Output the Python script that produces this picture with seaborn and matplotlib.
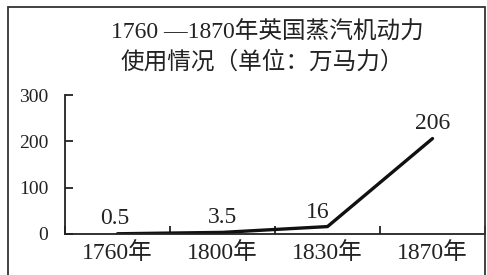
import matplotlib
matplotlib.use('Agg')
import matplotlib.pyplot as plt
import seaborn as sns
from matplotlib.patches import Rectangle

years = ['1760年', '1800年', '1830年', '1870年']
power = [0.5, 3.5, 16, 206]
value_labels = ['0.5', '3.5', '16', '206']
y_ticks = [0, 100, 200, 300]

sns.set_style('white')
plt.rcParams['font.family'] = ['Liberation Serif', 'Noto Sans CJK SC']
plt.rcParams['axes.unicode_minus'] = False

fig = plt.figure(figsize=(4.87, 2.75), dpi=100)
ax = fig.add_axes([65 / 487, 1 - 234 / 275, 420 / 487, 139 / 275])

sns.lineplot(x=years, y=power, ax=ax, color='#111111', linewidth=2.4, sort=False)

ax.set_xlim(-0.5, 3.5)
ax.set_ylim(0, 300)
ax.set_xlabel('')
ax.set_ylabel('')

# 类别标签放在格子中间，刻度放在格子边界
ax.set_xticks(range(len(years)), years)
ax.set_xticks([i - 0.5 for i in range(len(years) + 1)], minor=True)
ax.tick_params(axis='x', which='major', bottom=True, length=0, pad=6, labelsize=17,
               colors='#222222')
ax.tick_params(axis='x', which='minor', bottom=True, direction='in', length=6, width=1.3,
               color='#222222')
ax.set_yticks(y_ticks)
ax.tick_params(axis='y', left=True, direction='in', length=6, width=1.3, pad=12,
               labelsize=14, colors='#222222')

for side in ['top', 'right']:
    ax.spines[side].set_visible(False)
for side in ['left', 'bottom']:
    ax.spines[side].set_linewidth(1.3)
    ax.spines[side].set_color('#222222')

# 数据标签
offsets = [(-2, 11), (0, 11), (-7, 10), (0, 11)]
for i, (v, lab) in enumerate(zip(power, value_labels)):
    ax.annotate(lab, (i, v), xytext=offsets[i], textcoords='offset points',
                ha='center', va='center', fontsize=17, color='#222222')

fig.text(267 / 487, 1 - 33 / 275, '1760 —1870年英国蒸汽机动力', ha='center', va='center',
         fontsize=17, color='#222222')
fig.text(262 / 487, 1 - 62 / 275, '使用情况（单位：万马力）', ha='center', va='center',
         fontsize=17, color='#222222')

# 外框
fig.patches.append(Rectangle((8 / 487, -0.05), 477 / 487, 1.05 - 7 / 275,
                             transform=fig.transFigure, fill=False,
                             edgecolor='#333333', linewidth=1.3))

fig.savefig('out.png', dpi=100)
